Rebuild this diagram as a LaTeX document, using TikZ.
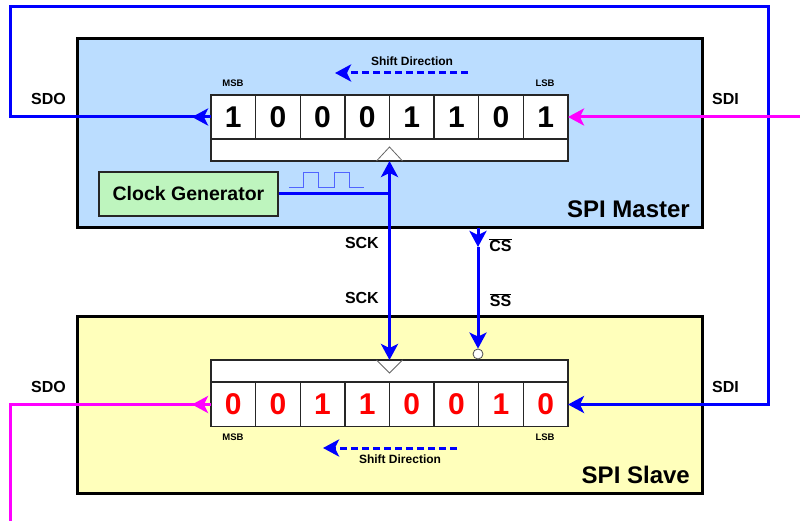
\documentclass[tikz,border=0pt]{standalone}
\usepackage{fontspec}
\setmainfont{Liberation Sans}
\usetikzlibrary{arrows.meta}
\definecolor{mfill}{RGB}{187,221,255}
\definecolor{sfill}{RGB}{255,255,187}
\definecolor{gfill}{RGB}{190,245,190}
\definecolor{wblue}{RGB}{0,0,255}
\definecolor{wmag}{RGB}{255,0,255}
\definecolor{pblue}{RGB}{80,100,255}
\definecolor{dred}{RGB}{255,0,0}
\begin{document}
\begin{tikzpicture}[x=1pt,y=-1pt,
  >={Stealth[length=16pt,width=17pt,inset=4pt]},
  unitbox/.style={draw=black,line width=3pt,minimum width=625pt,inner sep=0pt,outer sep=0pt},
  cell/.style={draw=black!85,fill=white,line width=1.3pt,minimum width=44.625pt,minimum height=44pt,inner sep=0pt,outer sep=0pt,font=\bfseries\fontsize{30}{32}\selectfont},
  strip/.style={draw=black!85,fill=white,line width=1.3pt,minimum width=357pt,minimum height=22pt,inner sep=0pt,outer sep=0pt},
  wire/.style={line width=3pt,draw=wblue},
  mwire/.style={line width=3pt,draw=wmag},
  lbl/.style={inner sep=0pt,font=\bfseries\fontsize{16}{18}\selectfont},
  tiny/.style={inner sep=0pt,font=\bfseries\fontsize{9.5}{11}\selectfont},
  shiftlbl/.style={inner sep=0pt,font=\bfseries\fontsize{12}{14}\selectfont},
  title/.style={inner sep=0pt,anchor=east,font=\bfseries\fontsize{24}{26}\selectfont},
  shiftarrow/.style={line width=3pt,draw=wblue,dash pattern=on 7pt off 4pt,->}]
\useasboundingbox (0,0) rectangle (800,521);
\fill[white] (0,0) rectangle (800,521);
% boxes
\node[unitbox,fill=mfill,minimum height=189pt] (mbox) at (389.5,133.5) {};
\node[unitbox,fill=sfill,minimum height=177pt] (sbox) at (389.5,404.5) {};
\node[title] (mtitle) at (690,209) {SPI Master};
\node[title] (stitle) at (690,475) {SPI Slave};
% master register
\foreach \b [count=\i] in {1,0,0,0,1,1,0,1}
  \node[cell] (m\i) at ({211+44.625*(\i-0.5)},117) {\b};
\node[strip] (mstrip) at (389.5,150) {};
\draw[black!60,line width=0.8pt] ([xshift=-13pt]mstrip.south) -- ([yshift=14pt]mstrip.south) -- ([xshift=13pt]mstrip.south);
\node[tiny] (mmsb) at (233,83) {MSB};
\node[tiny] (mlsb) at (545,83) {LSB};
\node[shiftlbl] (mshift) at (412,61) {Shift Direction};
\coordinate (msa) at (468,73);
\coordinate (msb) at (335,73);
\draw[shiftarrow] (msa) -- (msb);
% slave register
\foreach \b [count=\i] in {0,0,1,1,0,0,1,0}
  \node[cell,text=dred] (s\i) at ({211+44.625*(\i-0.5)},404.5) {\b};
\node[strip] (sstrip) at (389.5,371) {};
\draw[black!60,line width=0.8pt] ([xshift=-13pt]sstrip.north) -- ([yshift=-13pt]sstrip.north) -- ([xshift=13pt]sstrip.north);
\node[tiny] (smsb) at (233,437) {MSB};
\node[tiny] (slsb) at (545,437) {LSB};
\node[shiftlbl] (sshift) at (400,459) {Shift Direction};
\coordinate (ssa) at (457,448);
\coordinate (ssb) at (323,448);
\draw[shiftarrow] (ssa) -- (ssb);
% clock generator
\node[draw=black!85,fill=gfill,line width=1.3pt,minimum width=179pt,minimum height=44pt,inner sep=0pt,font=\bfseries\fontsize{19.5}{21}\selectfont] (cg) at (188.5,194) {Clock Generator};
\draw[pblue,line width=1pt] (289,188) -- (303,188) -- (303,173) -- (318,173) -- (318,188) -- (334,188) -- (334,173) -- (349,173) -- (349,188) -- (364,188);
\coordinate (cgj) at (mstrip.south |- cg.east);
\draw[wire] (cg.east) -- (cgj);
% SCK
\draw[wire,<->] (mstrip.south) -- (sstrip.north);
\node[lbl,anchor=east] (sck1) at (379,243) {SCK};
\node[lbl,anchor=east] (sck2) at (379,298) {SCK};
% CS / SS
\node[circle,draw=black!70,fill=white,line width=0.8pt,minimum size=10pt,inner sep=0pt] (ssc) at (478,354) {};
\coordinate (cstop) at (478,228);
\coordinate (csmid) at (478,247);
\draw[wire,->] (cstop) -- (csmid);
\draw[wire,->] (csmid) -- (ssc.north);
\node[lbl] (csl) at (500.5,245) {$\overline{\hbox{CS}}$};
\node[lbl] (ssl) at (500.5,300) {$\overline{\hbox{SS}}$};
% master SDO -> slave SDI (blue loop)
\coordinate (c1) at (10,117);
\coordinate (c2) at (10,7);
\coordinate (c3) at (768,7);
\coordinate (c4) at (768,404.5);
\draw[wire,->] (m1.west) -- (c1) -- (c2) -- (c3) -- (c4) -- (s8.east);
\draw[wire,->] (m1.west) -- ++(-19,0);
% master SDI (magenta from right)
\coordinate (mdin) at (800,117);
\draw[mwire,->] (mdin) -- (m8.east);
% slave SDO (magenta)
\coordinate (d1) at (10,404.5);
\coordinate (d2) at (10,521);
\draw[mwire] (s1.west) -- (d1) -- (d2);
\draw[mwire,->] (s1.west) -- ++(-19,0);
% labels
\node[lbl] (sdom) at (48.5,99) {SDO};
\node[lbl] (sdim) at (725.5,99) {SDI};
\node[lbl] (sdos) at (48.5,387) {SDO};
\node[lbl] (sdis) at (725.5,387) {SDI};
\end{tikzpicture}
\end{document}
